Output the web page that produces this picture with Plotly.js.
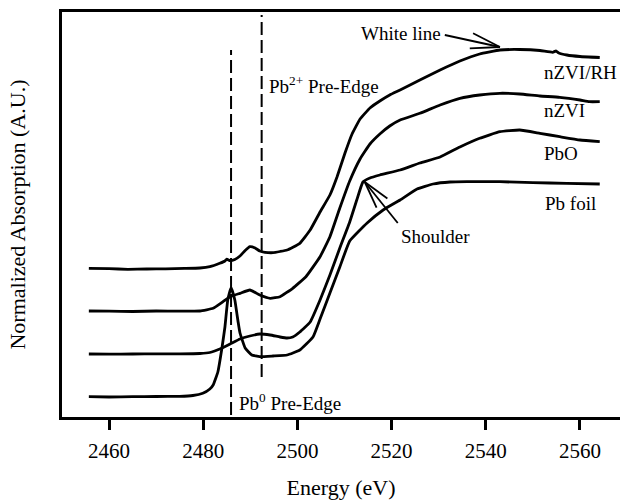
<!DOCTYPE html>
<html>
<head>
<meta charset="utf-8">
<script src="https://cdn.plot.ly/plotly-3.0.1.min.js"></script>
<style>html,body{margin:0;padding:0;background:#fff;}#chart{width:620px;height:501px;}</style>
</head>
<body>
<div id="chart"></div>
<script>
// ---- data (energy in eV, normalized absorption with vertical offsets) ----
const energyRH = [2455.7, 2460, 2464, 2468, 2472, 2476, 2479.3, 2481.4, 2483.5, 2484.6, 2485.0, 2485.7, 2486.7, 2487.8, 2488.9, 2489.9, 2491.0, 2492.0, 2493.1, 2494.8, 2496.3, 2497.8, 2500.5, 2502.7, 2504.8, 2506.9, 2508.4, 2510.1, 2511.6, 2513.3, 2515.4, 2517.5, 2519.6, 2521.8, 2526.0, 2530.3, 2534.5, 2538.7, 2543.0, 2547.2, 2551.5, 2554.2, 2554.9, 2555.5, 2557.2, 2560.0, 2564.2];
const absRH = [1.487, 1.483, 1.477, 1.480, 1.482, 1.486, 1.490, 1.503, 1.537, 1.560, 1.578, 1.563, 1.575, 1.610, 1.665, 1.703, 1.690, 1.660, 1.647, 1.643, 1.655, 1.670, 1.737, 1.87, 2.05, 2.22, 2.40, 2.64, 2.83, 2.98, 3.09, 3.16, 3.22, 3.27, 3.37, 3.47, 3.56, 3.63, 3.67, 3.675, 3.665, 3.647, 3.66, 3.64, 3.62, 3.605, 3.595];

const energyNZVI = [2455.7, 2460, 2465, 2470, 2475, 2479.3, 2482.1, 2484.2, 2485.7, 2487.8, 2489.9, 2492.0, 2494.2, 2496.3, 2499.0, 2501.8, 2504.8, 2506.9, 2509.0, 2511.1, 2513.3, 2515.4, 2517.5, 2519.6, 2521.8, 2526.0, 2530.3, 2534.5, 2538.7, 2543.0, 2547.2, 2551.5, 2555.7, 2560.0, 2562.0, 2564.2];
const absNZVI = [1.06, 1.058, 1.055, 1.06, 1.058, 1.06, 1.087, 1.153, 1.203, 1.237, 1.27, 1.22, 1.187, 1.203, 1.287, 1.403, 1.603, 1.803, 2.09, 2.36, 2.58, 2.73, 2.83, 2.91, 2.97, 3.037, 3.12, 3.187, 3.22, 3.237, 3.23, 3.21, 3.197, 3.17, 3.153, 3.153];

const energyPbO = [2455.7, 2460, 2465, 2470, 2475, 2479.3, 2481.4, 2483.5, 2485.7, 2487.8, 2489.9, 2492.0, 2494.2, 2496.3, 2497.8, 2499.0, 2500.5, 2502.7, 2504.8, 2506.9, 2509.0, 2511.1, 2512.6, 2513.9, 2515.4, 2517.5, 2521.8, 2526.0, 2530.3, 2534.5, 2538.7, 2543.0, 2547.2, 2551.5, 2555.7, 2560.0, 2564.2];
const absPbO = [0.63, 0.628, 0.63, 0.632, 0.632, 0.635, 0.645, 0.68, 0.73, 0.78, 0.81, 0.83, 0.82, 0.80, 0.79, 0.80, 0.85, 0.95, 1.17, 1.42, 1.69, 1.95, 2.17, 2.35, 2.39, 2.42, 2.47, 2.54, 2.60, 2.70, 2.787, 2.853, 2.87, 2.837, 2.803, 2.77, 2.753];

const energyFoil = [2455.7, 2460, 2465, 2470, 2475, 2477.8, 2479.9, 2481.4, 2482.1, 2483.1, 2484.0, 2484.6, 2485.2, 2485.9, 2486.7, 2487.4, 2487.8, 2488.9, 2490.3, 2492.0, 2494.8, 2497.8, 2500.5, 2503.3, 2504.8, 2506.9, 2509.0, 2511.1, 2514.8, 2518.2, 2521.8, 2525.4, 2528.8, 2532.4, 2536.0, 2543.0, 2550.0, 2557.2, 2564.2];
const absFoil = [0.203, 0.20, 0.203, 0.205, 0.207, 0.215, 0.237, 0.28, 0.32, 0.45, 0.70, 0.90, 1.17, 1.293, 1.17, 0.95, 0.84, 0.69, 0.62, 0.603, 0.61, 0.62, 0.67, 0.80, 0.98, 1.24, 1.50, 1.76, 1.94, 2.07, 2.17, 2.28, 2.33, 2.35, 2.353, 2.353, 2.343, 2.337, 2.33];

// pre-edge reference energies and the vertical extent of their dashed markers
const preEdgeNames = ["Pb0", "Pb2+"];
const preEdgeEnergy = [2485.9, 2492.4];
const preEdgeYLow = [0.02, 0.40];
const preEdgeYHigh = [3.67, 4.02];

const seriesLabels = ["nZVI/RH", "nZVI", "PbO", "Pb foil"];
const xTickVals = [2460, 2480, 2500, 2520, 2540, 2560];

// ---- traces ----
const FONT = "Liberation Serif";
const curveLine = {color: "#000", width: 2.8, shape: "spline", smoothing: 0.35};
const curves = [
  [energyRH, absRH], [energyNZVI, absNZVI], [energyPbO, absPbO], [energyFoil, absFoil]
].map((d, i) => ({
  x: d[0], y: d[1], type: "scatter", mode: "lines", name: seriesLabels[i],
  line: curveLine, hoverinfo: "skip"
}));

const dashed = preEdgeEnergy.map((e, i) => ({
  x: [e, e], y: [preEdgeYLow[i], preEdgeYHigh[i]], type: "scatter", mode: "lines",
  name: preEdgeNames[i], line: {color: "#000", width: 2, dash: "13px,5px"}, hoverinfo: "skip"
}));

const annFont = {family: FONT, size: 19, color: "#000"};
const annotations = [
  {x: 2551.9, y: 3.45, text: seriesLabels[0]},
  {x: 2551.9, y: 3.07, text: seriesLabels[1]},
  {x: 2551.9, y: 2.64, text: seriesLabels[2]},
  {x: 2552.1, y: 2.14, text: seriesLabels[3]},
  {x: 2493.5, y: 3.32, text: "Pb<sup>2+</sup> Pre-Edge"},
  {x: 2487.2, y: 0.15, text: "Pb<sup>0</sup> Pre-Edge"},
  {x: 2522.0, y: 3.84, text: "White line", xanchor: "center"},
  {x: 2529.4, y: 1.81, text: "Shoulder", xanchor: "center"}
].map(a => Object.assign({xref: "x", yref: "y", showarrow: false, xanchor: "left", font: annFont}, a));

// open-headed pointer arrows (shaft + two barbs) for the two callouts
const arrowLine = {color: "#000", width: 1.8};
const arrowSegs = [
  // White line
  [2531.3, 3.82, 2543.0, 3.70], [2536.6, 3.686, 2543.0, 3.70], [2537.3, 3.838, 2543.0, 3.70],
  // Shoulder
  [2521.3, 1.94, 2514.3, 2.35], [2519.1, 2.185, 2514.3, 2.35], [2516.8, 2.094, 2514.3, 2.35]
];
const shapes = arrowSegs.map(s => ({type: "line", xref: "x", yref: "y",
  x0: s[0], y0: s[1], x1: s[2], y1: s[3], line: arrowLine}));

const layout = {
  width: 620, height: 501,
  margin: {l: 62, r: 0, t: 12, b: 84, pad: 0},
  paper_bgcolor: "#fff", plot_bgcolor: "#fff",
  showlegend: false,
  font: {family: FONT, color: "#000"},
  xaxis: {
    range: [2450, 2568.5], tickvals: xTickVals, ticks: "outside", ticklen: 10, tickwidth: 3,
    tickcolor: "#000", showline: true, linewidth: 3, linecolor: "#000", mirror: true,
    ticklabelstandoff: 3,
    showgrid: false, zeroline: false, tickfont: {family: FONT, size: 21, color: "#000"},
    title: {text: "Energy (eV)", font: {family: FONT, size: 22, color: "#000"}, standoff: 18}
  },
  yaxis: {
    range: [0, 4.05], showticklabels: false, ticks: "", showline: true, linewidth: 3,
    linecolor: "#000", mirror: false, showgrid: false, zeroline: false,
    title: {text: "Normalized Absorption (A.U.)", font: {family: FONT, size: 22, color: "#000"}, standoff: 28}
  },
  annotations: annotations,
  shapes: shapes
};

Plotly.newPlot("chart", curves.concat(dashed), layout, {displayModeBar: false, staticPlot: true});
</script>
</body>
</html>
